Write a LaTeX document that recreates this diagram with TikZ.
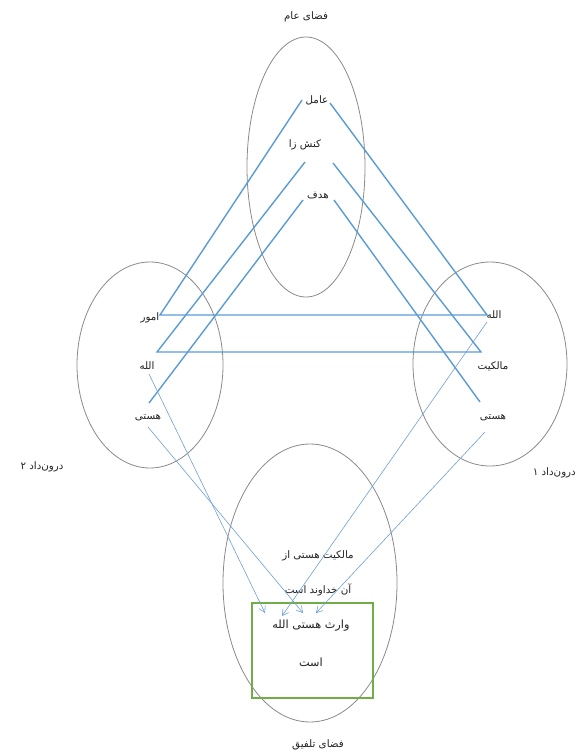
\documentclass[tikz,border=0pt]{standalone}
\usepackage{fontspec}
\setmainfont{DejaVu Sans}
\newfontfamily\fa[Script=Arabic]{DejaVu Sans}
\TeXXeTstate=1
\usetikzlibrary{arrows.meta}
\definecolor{thickblue}{HTML}{5B9BD5}
\definecolor{thinblue}{HTML}{6F9FD6}
\definecolor{ellgray}{HTML}{8A8A8A}
\definecolor{boxgreen}{HTML}{70AD47}
\definecolor{txtgray}{HTML}{222222}
\begin{document}
\begin{tikzpicture}[x=1pt,y=-1pt,
  lbl/.style={inner sep=0pt, text=txtgray, font=\fa\fontsize{10.3}{12}\selectfont},
  boxlbl/.style={inner sep=0pt, text=txtgray, font=\fa\fontsize{11.3}{13}\selectfont},
  space/.style={draw=ellgray, line width=0.8pt},
  thickln/.style={draw=thickblue, line width=1.4pt},
  thinarr/.style={draw=thinblue, line width=0.6pt, -{Straight Barb[length=6pt,width=7pt]}}]
\useasboundingbox (0,0) rectangle (577,755);
% ellipses
\draw[space] (306,167) ellipse [x radius=59, y radius=130];
\draw[space] (150,365) ellipse [x radius=73, y radius=103];
\draw[space] (490,364) ellipse [x radius=77, y radius=102];
\draw[space] (310,583) ellipse [x radius=87, y radius=139];
% green box
\node[draw=boxgreen, line width=1.5pt, minimum width=121pt, minimum height=95pt, inner sep=0pt] (box) at (312.5,650.5) {};
% labels
\node[lbl] (tA) at (306,17) {\beginR فضای عام\endR};
\node[lbl] (amel) at (317,100) {\beginR عامل\endR};
\node[lbl] (konesh) at (305,145) {\beginR کنش زا\endR};
\node[lbl] (hadaf) at (318,195) {\beginR هدف\endR};
\node[lbl] (omur) at (150,318) {\beginR امور\endR};
\node[lbl] (allahL) at (147,366) {\beginR الله\endR};
\node[lbl] (hastiL) at (148,418) {\beginR هستی\endR};
\node[lbl] (allahR) at (494,315) {\beginR الله\endR};
\node[lbl] (malek) at (493,366) {\beginR مالکیت\endR};
\node[lbl] (hastiR) at (493,418) {\beginR هستی\endR};
\node[lbl] (in2) at (42,467) {\beginR درون‌داد ۲\endR};
\node[lbl, anchor=east] (in1) at (576,473) {\beginR درون‌داد ۱\endR};
\node[lbl] (t1) at (318,556) {\beginR مالکیت هستی از\endR};
\node[lbl] (t2) at (318,590) {\beginR آن خداوند است\endR};
\node[boxlbl] (t3) at (311,626) {\beginR وارث هستی الله\endR};
\node[boxlbl] (t4) at (311,662) {\beginR است\endR};
\node[lbl] (tB) at (318,745) {\beginR فضای تلفیق\endR};
% line end points
\coordinate (a1L) at (302,100); \coordinate (a1R) at (330,103);
\coordinate (a2L) at (305,162); \coordinate (a2R) at (333,163);
\coordinate (a3L) at (303,200); \coordinate (a3R) at (334,200);
\coordinate (p1L) at (160,315); \coordinate (p1R) at (487,315);
\coordinate (p2L) at (157,352); \coordinate (p2R) at (481,352);
\coordinate (p3L) at (149,403); \coordinate (p3R) at (480,402);
% thick lines
\draw[thickln] (a1L) -- (p1L) -- (p1R) -- (a1R);
\draw[thickln] (a2L) -- (p2L) -- (p2R) -- (a2R);
\draw[thickln] (a3L) -- (p3L);
\draw[thickln] (a3R) -- (p3R);
% thin arrows
\coordinate (sAL) at (149,374); \coordinate (sHL) at (148,427);
\coordinate (sAR) at (487,322); \coordinate (sHR) at (485,432);
\coordinate (e1) at (265,613); \coordinate (e2) at (282,616);
\coordinate (e3) at (303,613); \coordinate (e4) at (316,613);
\draw[thinarr] (sAL) -- (e1);
\draw[thinarr] (sHL) -- (e3);
\draw[thinarr] (sAR) -- (e2);
\draw[thinarr] (sHR) -- (e4);
\end{tikzpicture}
\end{document}
